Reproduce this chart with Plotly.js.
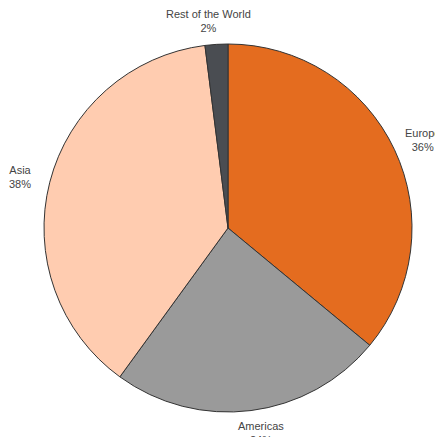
<!DOCTYPE html>
<html>
<head>
<meta charset="utf-8">
<script src="https://cdn.plot.ly/plotly-3.0.1.min.js"></script>
<style>html,body{margin:0;padding:0;background:#fff;}#chart{width:435px;height:437px;}</style>
</head>
<body>
<div id="chart"></div>
<script>
const regions = ["Europe", "Americas", "Asia", "Rest of the World"];
const shares = [36, 24, 38, 2];
const sliceColors = ["#E46C1F", "#9A9A9A", "#FFCCB0", "#4A4D52"];

const total = shares.reduce((a, b) => a + b, 0);
const labelRadius = 1.125;   // relative to the pie radius
const labelShift = 7;        // px, pushed away from the vertical axis
const annotations = [];
let cum = 0;
shares.forEach((v, i) => {
  const mid = (cum + v / 2) / total * 2 * Math.PI;
  cum += v;
  const s = Math.sin(mid), c = Math.cos(mid);
  annotations.push({
    xref: "paper", yref: "paper",
    x: 0.5 + 0.5 * labelRadius * s,
    y: 0.5 + 0.5 * labelRadius * c,
    xshift: (s >= 0 ? 1 : -1) * labelShift,
    text: regions[i] + "<br>" + Math.round(v / total * 100) + "%",
    showarrow: false,
    xanchor: "center", yanchor: "middle", align: "center",
    font: { family: "Liberation Sans, Arial, sans-serif", size: 11, color: "#444444" }
  });
});

const trace = {
  type: "pie",
  labels: regions,
  values: shares,
  sort: false,
  direction: "clockwise",
  rotation: 0,
  marker: { colors: sliceColors, line: { color: "#333333", width: 1 } },
  textinfo: "none",
  showlegend: false,
  hoverinfo: "none"
};

const layout = {
  width: 435,
  height: 437,
  margin: { l: 44, r: 23, t: 44, b: 25, pad: 0 },
  paper_bgcolor: "#ffffff",
  plot_bgcolor: "#ffffff",
  showlegend: false,
  annotations: annotations,
  font: { family: "Liberation Sans, Arial, sans-serif", size: 11, color: "#444444" }
};

Plotly.newPlot("chart", [trace], layout, { displayModeBar: false, staticPlot: true });
</script>
</body>
</html>
